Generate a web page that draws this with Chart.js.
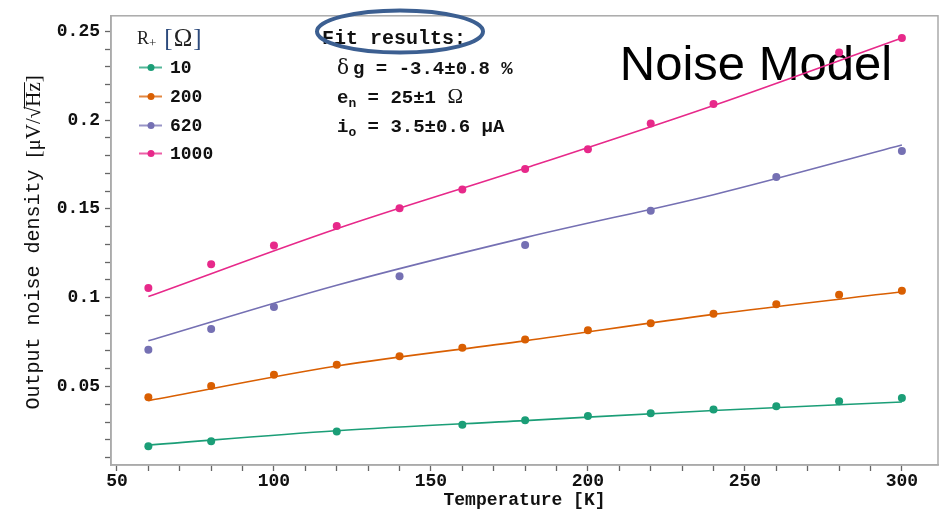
<!DOCTYPE html>
<html>
<head>
<meta charset="utf-8">
<script src="https://cdn.jsdelivr.net/npm/chart.js@4/dist/chart.umd.min.js"></script>
<style>
  body { margin: 0; background: #fff; }
  #wrap { width: 944px; height: 513px; }
</style>
</head>
<body>
<div id="wrap"><canvas id="myChart" width="944" height="513"></canvas></div>
<script>
// measured temperatures [K]
var temps = [60, 80, 100, 120, 140, 160, 180, 200, 220, 240, 260, 280, 300];

// output noise density [uV/sqrt(Hz)] per source resistance, null = not measured
var r10   = [0.0164, 0.0192, null, 0.0246, null, 0.0284, 0.0310, 0.0334, 0.0350, 0.0370, 0.0389, 0.0417, 0.0435];
var r200  = [0.0439, 0.0503, 0.0566, 0.0622, 0.0670, 0.0718, 0.0764, 0.0816, 0.0856, 0.0910, 0.0963, 0.1017, 0.1039];
var r620  = [0.0707, 0.0823, 0.0948, null, 0.1121, null, 0.1296, null, 0.1489, null, 0.1680, null, 0.1826];
var r1000 = [0.1055, 0.1188, 0.1294, 0.1403, 0.1504, 0.1609, 0.1725, 0.1835, 0.1980, 0.2090, null, 0.2380, 0.2462];

// noise model fit curves
var fitTemps = [60, 120, 180, 240, 300];
var fit10   = [0.0170, 0.0251, 0.0308, 0.0365, 0.0413];
var fit200  = [0.0420, 0.0615, 0.0757, 0.0906, 0.1033];
var fit620  = [0.0757, 0.1070, 0.1338, 0.1580, 0.1860];
var fit1000 = [0.1006, 0.1388, 0.1729, 0.2082, 0.2462];

var seriesNames = ['10', '200', '620', '1000'];
var colors = ['#1b9e77', '#d95f02', '#7570b3', '#e7298a'];

// axis ticks: labelled majors plus unlabelled minors
var xTickLabels = [50, 100, 150, 200, 250, 300];
var xMinorStep = 10;
var yTickLabels = ['0.05', '0.1', '0.15', '0.2', '0.25'];
var yMinorStep = 0.01;

var monoBold = 'bold 18px "Liberation Mono", monospace';

function toPoints(xs, ys) {
    var pts = [];
    for (var i = 0; i < xs.length; i++) {
        if (ys[i] !== null) pts.push({ x: xs[i], y: ys[i] });
    }
    return pts;
}

var measured = [r10, r200, r620, r1000];
var fits = [fit10, fit200, fit620, fit1000];
var datasets = [];
for (var i = 0; i < 4; i++) {
    datasets.push({
        type: 'line',
        label: seriesNames[i] + ' fit',
        data: toPoints(fitTemps, fits[i]),
        borderColor: colors[i],
        borderWidth: 1.6,
        pointRadius: 0,
        fill: false,
        cubicInterpolationMode: 'monotone'
    });
}
for (var i = 0; i < 4; i++) {
    datasets.push({
        label: seriesNames[i],
        data: toPoints(temps, measured[i]),
        backgroundColor: colors[i],
        borderColor: colors[i],
        pointRadius: 4,
        pointBorderWidth: 0,
        showLine: false
    });
}

function drawRuns(ctx, runs, x, y) {
    runs.forEach(function (r) {
        ctx.font = r.font;
        ctx.fillText(r.t, x, y + (r.dy || 0));
        x += ctx.measureText(r.t).width + (r.gap || 0);
    });
    return x;
}

// frame, legend, fit box and the big label
var decor = {
    id: 'decor',
    beforeDatasetsDraw: function (chart) {
        var ctx = chart.ctx;
        ctx.save();
        ctx.fillStyle = '#000';
        ctx.font = '49px "Liberation Sans", Arial, sans-serif';
        ctx.textAlign = 'center';
        ctx.textBaseline = 'alphabetic';
        ctx.fillText('Noise Model', 756, 80);
        ctx.restore();
    },
    afterDraw: function (chart) {
        var ctx = chart.ctx;
        var a = chart.chartArea;
        ctx.save();

        // plot frame
        ctx.strokeStyle = '#aaaaaa';
        ctx.lineWidth = 1.5;
        ctx.strokeRect(a.left, a.top, a.right - a.left, a.bottom - a.top);

        // y axis title, rotated
        ctx.save();
        ctx.translate(34, (a.top + a.bottom) / 2 + 2);
        ctx.rotate(-Math.PI / 2);
        ctx.fillStyle = '#111';
        ctx.textBaseline = 'middle';
        var monoT = '20px "Liberation Mono", monospace';
        var serifT = '21px "Liberation Serif", serif';
        ctx.font = monoT;
        var w1 = ctx.measureText('Output noise density ').width;
        ctx.font = serifT;
        var w2 = ctx.measureText('[μV/√Hz]').width;
        var x0 = -(w1 + w2) / 2;
        ctx.font = monoT;
        ctx.fillText('Output noise density ', x0, 0);
        ctx.font = serifT;
        var xs = x0 + w1 + ctx.measureText('[μV/√').width;
        ctx.fillText('[μV/√Hz]', x0 + w1, 0);
        var xe = xs + ctx.measureText('Hz').width;
        ctx.strokeStyle = '#111';
        ctx.lineWidth = 1;
        ctx.beginPath();
        ctx.moveTo(xs - 2, -9.5);
        ctx.lineTo(xe, -9.5);
        ctx.stroke();
        ctx.restore();

        // legend
        ctx.fillStyle = '#222';
        ctx.textBaseline = 'alphabetic';
        var lx = drawRuns(ctx, [
            { t: 'R', font: '18px "Liberation Serif", serif' },
            { t: '+', font: '13px "Liberation Serif", serif', dy: 3, gap: 8 }
        ], 137, 44);
        ctx.fillStyle = '#2c4a7c';
        ctx.font = '25px "Liberation Serif", serif';
        ctx.fillText('[', lx, 46);
        var bw = ctx.measureText('[').width;
        ctx.fillStyle = '#222';
        ctx.fillText('Ω', lx + bw + 1, 46);
        var ow = ctx.measureText('Ω').width;
        ctx.fillStyle = '#2c4a7c';
        ctx.fillText(']', lx + bw + ow + 2, 46);

        var legY = [67.5, 96.5, 125.5, 153.5];
        for (var i = 0; i < 4; i++) {
            ctx.globalAlpha = 0.75;
            ctx.strokeStyle = colors[i];
            ctx.lineWidth = 2;
            ctx.beginPath();
            ctx.moveTo(139, legY[i]);
            ctx.lineTo(162, legY[i]);
            ctx.stroke();
            ctx.globalAlpha = 1;
            ctx.fillStyle = colors[i];
            ctx.beginPath();
            ctx.arc(151, legY[i], 3.5, 0, Math.PI * 2);
            ctx.fill();
            ctx.fillStyle = '#111';
            ctx.font = monoBold;
            ctx.textBaseline = 'middle';
            ctx.fillText(seriesNames[i], 170, legY[i] + 1);
            ctx.textBaseline = 'alphabetic';
        }

        // fit results
        ctx.fillStyle = '#111';
        ctx.font = 'bold 20px "Liberation Mono", monospace';
        ctx.fillText('Fit results:', 322, 44);
        var fb = 'bold 19px "Liberation Mono", monospace';
        var fs = 'bold 13px "Liberation Mono", monospace';
        var sr = '20px "DejaVu Serif", "Liberation Serif", serif';
        drawRuns(ctx, [
            { t: 'δ', font: sr, gap: 4 },
            { t: 'g = -3.4±0.8 %', font: fb }
        ], 337, 74);
        var ex = drawRuns(ctx, [
            { t: 'e', font: fb },
            { t: 'n', font: fs, dy: 4 },
            { t: ' = 25±1 ', font: fb }
        ], 337, 103);
        ctx.font = '21px "Liberation Serif", serif';
        ctx.fillText('Ω', ex, 103);
        drawRuns(ctx, [
            { t: 'i', font: fb },
            { t: 'o', font: fs, dy: 4 },
            { t: ' = 3.5±0.6 μA', font: fb }
        ], 337, 132);

        // highlight ring round the fit heading
        ctx.strokeStyle = '#3c5f91';
        ctx.lineWidth = 4;
        ctx.beginPath();
        ctx.ellipse(400, 31.5, 83, 21, 0, 0, Math.PI * 2);
        ctx.stroke();

        ctx.restore();
    }
};

var chart = new Chart('myChart', {
    type: 'scatter',
    data: { datasets: datasets },
    options: {
        responsive: false,
        animation: false,
        events: [],
        layout: { padding: { top: 6, right: 6, left: 0, bottom: 0 } },
        plugins: {
            legend: { display: false },
            tooltip: { enabled: false }
        },
        scales: {
            x: {
                type: 'linear',
                min: 48.1,
                max: 311.5,
                afterBuildTicks: function (scale) {
                    var t = [];
                    for (var v = xTickLabels[0]; v <= xTickLabels[xTickLabels.length - 1]; v += xMinorStep) t.push({ value: v });
                    scale.ticks = t;
                },
                afterFit: function (scale) { scale.height = 48; },
                ticks: {
                    autoSkip: false,
                    maxRotation: 0,
                    padding: 0,
                    color: '#111',
                    font: { family: '"Liberation Mono", monospace', size: 18, weight: 'bold' },
                    callback: function (v) { return xTickLabels.indexOf(v) >= 0 ? String(v) : ''; }
                },
                grid: { drawOnChartArea: false, tickLength: 6, tickColor: '#666', tickWidth: 1.3 },
                border: { color: '#aaaaaa', width: 1.5 },
                title: {
                    display: true,
                    text: 'Temperature [K]',
                    color: '#111',
                    font: { family: '"Liberation Mono", monospace', size: 18, weight: 'bold' },
                    padding: { top: 0, bottom: 2 }
                }
            },
            y: {
                type: 'linear',
                min: 0.0058,
                max: 0.2587,
                afterBuildTicks: function (scale) {
                    var t = [];
                    for (var k = 1; k <= 25; k++) t.push({ value: Math.round(k * yMinorStep * 100) / 100 });
                    scale.ticks = t;
                },
                afterFit: function (scale) { scale.width = 111; },
                ticks: {
                    autoSkip: false,
                    padding: 5,
                    color: '#111',
                    font: { family: '"Liberation Mono", monospace', size: 18, weight: 'bold' },
                    callback: function (v) {
                        var s = String(Math.round(v * 100) / 100);
                        return yTickLabels.indexOf(s) >= 0 ? s : '';
                    }
                },
                grid: { drawOnChartArea: false, tickLength: 6, tickColor: '#666', tickWidth: 1.3 },
                border: { color: '#aaaaaa', width: 1.5 }
            }
        }
    },
    plugins: [decor]
});
</script>
</body>
</html>
